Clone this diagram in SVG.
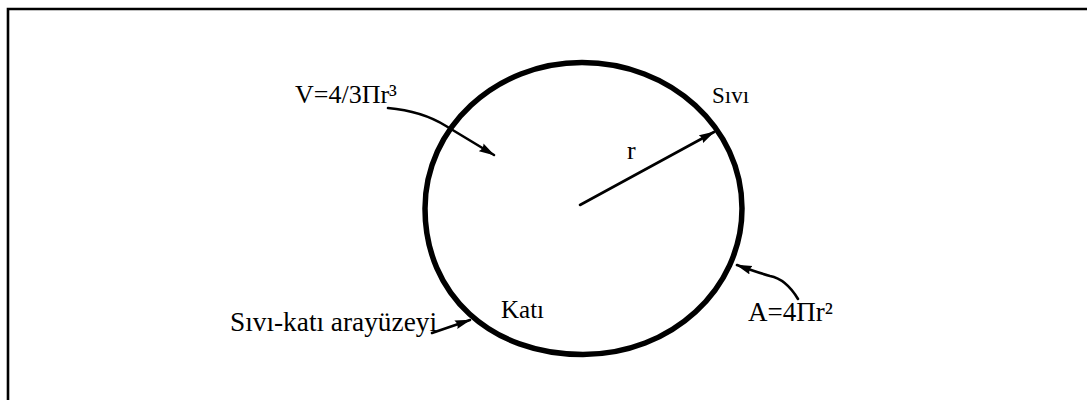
<svg xmlns="http://www.w3.org/2000/svg" width="1087" height="400" viewBox="0 0 1087 400">
<style>
.t{font-family:"Liberation Serif","Times New Roman",serif;fill:#000}
.c{fill:none;stroke:#000;stroke-width:2.6;stroke-linecap:round}
</style>
<defs>
<marker id="ah" viewBox="0 0 16 10" refX="15" refY="5" markerWidth="16" markerHeight="10" markerUnits="userSpaceOnUse" orient="auto">
<path d="M0,0.5 L16,5 L0,9.5 Q3,5 0,0.5 z" fill="#000"/>
</marker>
</defs>
<rect width="1087" height="400" fill="#fff"/>
<path d="M8,400 L8,9 L1087,9" fill="none" stroke="#000" stroke-width="2.6"/>
<g id="sphere">
<path d="M582,62.5 C670.4,62.5 742,127.9 742,208.5 C742,289.1 671.4,354.5 583,354.5 C491,354.5 425,295 425,208.5 C425,127.9 495.3,62.5 582,62.5 Z" fill="none" stroke="#000" stroke-width="5.5"/>
</g>
<g id="labels">
<text id="lbl-volume" class="t" x="295" y="103" font-size="26">V=4/3Πr³</text>
<text id="lbl-sivi" class="t" x="712" y="103" font-size="23">Sıvı</text>
<text id="lbl-r" class="t" x="627" y="159" font-size="26">r</text>
<text id="lbl-kati" class="t" x="501" y="318" font-size="25">Katı</text>
<text id="lbl-interface" class="t" x="230" y="331" font-size="27" textLength="207" lengthAdjust="spacingAndGlyphs">Sıvı-katı arayüzeyi</text>
<text id="lbl-area" class="t" x="748" y="321" font-size="27">A=4Πr²</text>
</g>
<g id="connectors">
<path class="c" d="M388,108 Q422,111 446,126 L494,155" marker-end="url(#ah)"/>
<path class="c" d="M580,205 L714,132" marker-end="url(#ah)"/>
<path class="c" d="M432,333 L470,320" marker-end="url(#ah)"/>
<path class="c" d="M798,299 Q786,279 770,276 Q756,272 737,265" marker-end="url(#ah)"/>
</g>
</svg>
